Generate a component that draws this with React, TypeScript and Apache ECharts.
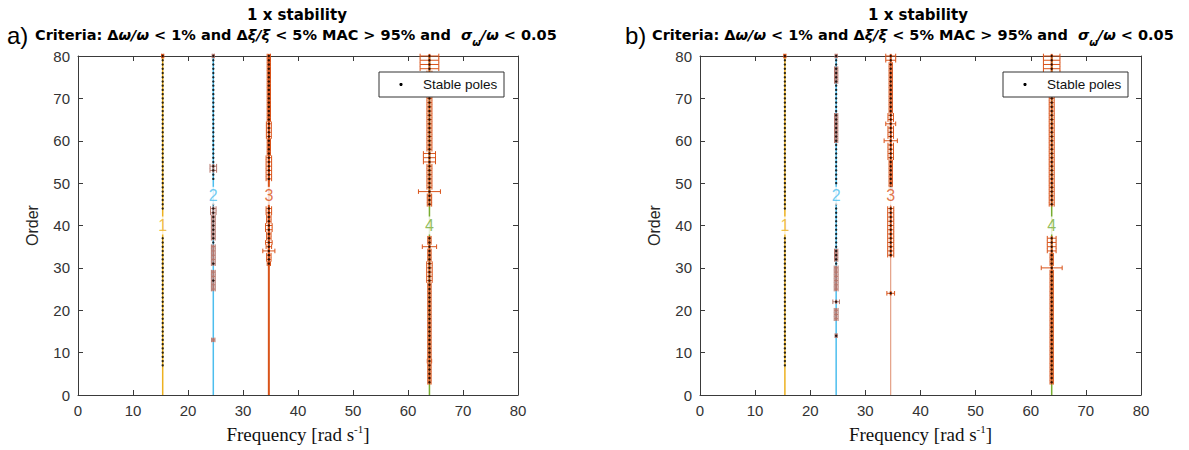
import React, { useEffect, useRef } from "react";
import * as echarts from "echarts";

// ---------- data ----------
const xRange = [0, 80];
const yRange = [0, 80];
const tickStep = 10;
const modeNames = ["1", "2", "3", "4"];
const legendLabel = "Stable poles";

// panel a
const aModeFreq = [15.4, 24.6, 34.7, 63.9];
const aLabelOrder = [40, 47, 47, 40];
const aPoles1 = [7,8,9,10,11,12,13,14,15,16,17,18,19,20,21,22,23,24,25,26,27,28,29,30,31,32,33,34,35,36,37,44,45,46,47,48,49,50,51,52,53,54,55,56,57,58,59,60,61,62,63,64,65,66,67,68,69,70,71,72,73,74,75,76,77,78,79,80];
const aPoles2 = [27,31,36,37,38,39,40,41,42,43,44,45,51,52,53,54,55,56,57,58,59,60,61,62,63,64,65,66,67,68,69,70,71,72,73,74,75,76,77,78,79,80];
const aPoles3 = [31,32,33,34,35,36,37,38,39,40,41,42,43,44,51,52,53,54,55,56,57,58,59,60,61,62,63,64,65,66,67,68,69,70,71,72,73,74,75,76,77,78,79,80];
const aPoles4 = [3,4,5,6,7,8,9,10,11,12,13,14,15,16,17,18,19,20,21,22,23,24,25,26,27,28,29,30,31,32,33,34,35,36,37,45,46,47,48,49,50,51,52,53,54,55,56,57,58,59,60,61,62,63,64,65,66,67,68,69,70,71,72,73,74,75,76,77,78,79,80];
// [order, half width of the frequency error bar]
const aErr1 = [[80,0.2]];
const aErr2 = [[13,0.3],[25,0.35],[26,0.35],[27,0.35],[28,0.35],[29,0.35],[31,0.35],[32,0.35],[33,0.35],[34,0.35],[35,0.35],[37,0.35],[38,0.35],[39,0.35],[40,0.35],[41,0.35],[42,0.35],[43,0.5],[44,0.5],[53,0.6],[54,0.6],[80,0.2]];
const aErr3 = [[31,0.3],[32,0.4],[33,0.4],[34,1.1],[35,0.5],[36,0.6],[37,0.4],[38,0.4],[39,0.6],[40,0.6],[41,0.4],[42,0.4],[43,0.5],[44,0.5],[51,0.5],[52,0.5],[53,0.5],[54,0.5],[55,0.5],[56,0.5],[57,0.3],[58,0.3],[59,0.3],[60,0.3],[61,0.45],[62,0.45],[63,0.45],[64,0.45],[65,0.3],[66,0.3],[67,0.3],[68,0.3],[69,0.3],[70,0.3],[71,0.3],[72,0.3],[73,0.3],[74,0.3],[75,0.3],[76,0.3],[77,0.3],[78,0.3],[79,0.3],[80,0.3]];
const aErr4 = [[3,0.3],[4,0.3],[5,0.3],[6,0.3],[7,0.3],[8,0.4],[9,0.3],[10,0.3],[11,0.3],[12,0.3],[13,0.3],[14,0.3],[15,0.3],[16,0.3],[17,0.3],[18,0.3],[19,0.3],[20,0.3],[21,0.3],[22,0.3],[23,0.3],[24,0.3],[25,0.3],[26,0.3],[27,0.5],[28,0.5],[29,0.5],[30,0.5],[31,0.5],[32,0.3],[33,0.3],[34,0.3],[35,1.3],[36,0.3],[37,0.3],[45,0.4],[46,0.4],[47,0.4],[48,2.0],[49,0.45],[50,0.45],[51,0.45],[52,0.45],[53,0.45],[54,0.45],[55,1.1],[56,1.1],[57,1.1],[58,0.45],[59,0.45],[60,0.45],[61,0.45],[62,0.45],[63,0.45],[64,0.45],[65,0.45],[66,0.45],[67,0.45],[68,0.45],[69,0.45],[70,0.45],[71,0.45],[72,0.45],[73,0.45],[74,0.45],[75,0.45],[76,0.45],[77,1.7],[78,1.7],[79,1.7],[80,1.7]];

// panel b
const bModeFreq = [15.4, 24.7, 34.6, 63.8];
const bLabelOrder = [40, 47, 47, 40];
const bPoles1 = [7,8,9,10,11,12,13,14,15,16,17,18,19,20,21,22,23,24,25,26,27,28,29,30,31,32,33,34,35,36,37,44,45,46,47,48,49,50,51,52,53,54,55,56,57,58,59,60,61,62,63,64,65,66,67,68,69,70,71,72,73,74,75,76,77,78,79,80];
const bPoles2 = [14,22,31,32,33,34,35,36,37,38,39,40,41,42,43,44,45,50,51,52,53,54,55,56,57,58,59,60,61,62,63,64,65,66,67,68,69,70,71,72,73,74,75,76,77,78,79,80];
const bPoles3 = [24,33,34,35,36,37,38,39,40,41,42,43,44,49,50,51,52,53,54,55,56,57,58,59,60,61,62,63,64,65,66,67,68,69,70,71,72,73,74,75,76,77,78,79,80];
const bPoles4 = [3,4,5,6,7,8,9,10,11,12,13,14,15,16,17,18,19,20,21,22,23,24,25,26,27,28,29,30,31,32,33,34,35,36,37,45,46,47,48,49,50,51,52,53,54,55,56,57,58,59,60,61,62,63,64,65,66,67,68,69,70,71,72,73,74,75,76,77,78,79,80];
const bErr1 = [[80,0.2]];
const bErr2 = [[14,0.2],[18,0.35],[19,0.35],[20,0.35],[22,0.6],[25,0.35],[26,0.35],[27,0.35],[28,0.35],[29,0.35],[30,0.35],[32,0.3],[33,0.3],[34,0.3],[60,0.3],[61,0.3],[62,0.3],[63,0.3],[64,0.3],[65,0.3],[66,0.3],[74,0.3],[75,0.3],[76,0.3],[77,0.3],[80,0.2]];
const bErr3 = [[24,0.7],[33,0.55],[34,0.55],[35,0.55],[36,0.55],[37,0.55],[38,0.55],[39,0.55],[40,0.55],[41,0.55],[42,0.55],[43,0.55],[44,0.55],[49,0.3],[50,0.3],[51,0.3],[52,0.3],[53,0.3],[54,0.3],[55,0.3],[56,0.5],[57,0.5],[58,0.5],[59,0.5],[60,1.2],[61,0.5],[62,0.5],[63,0.5],[64,0.9],[65,0.5],[66,0.5],[67,0.3],[68,0.3],[69,0.3],[70,0.3],[71,0.3],[72,0.3],[73,0.3],[74,0.3],[75,0.3],[76,0.3],[77,0.3],[78,0.3],[79,0.9],[80,0.9]];
const bErr4 = [[3,0.3],[4,0.3],[5,0.3],[6,0.3],[7,0.3],[8,0.3],[9,0.3],[10,0.3],[11,0.3],[12,0.3],[13,0.3],[14,0.3],[15,0.3],[16,0.3],[17,0.3],[18,0.3],[19,0.3],[20,0.3],[21,0.3],[22,0.3],[23,0.3],[24,0.3],[25,0.3],[26,0.3],[27,0.3],[28,0.3],[29,0.3],[30,1.9],[31,0.3],[32,0.3],[33,0.3],[34,0.8],[35,0.8],[36,0.8],[37,0.8],[45,0.45],[46,0.45],[47,0.45],[48,0.45],[49,0.45],[50,0.45],[51,0.45],[52,0.45],[53,0.45],[54,0.45],[55,0.45],[56,0.45],[57,0.45],[58,0.45],[59,0.45],[60,0.45],[61,0.45],[62,0.45],[63,0.45],[64,0.45],[65,0.45],[66,0.45],[67,0.45],[68,0.45],[69,0.45],[70,0.45],[71,0.45],[72,0.45],[73,0.45],[74,0.45],[75,0.45],[76,1.5],[77,1.5],[78,1.5],[79,1.5],[80,1.5]];

// ---------- styles ----------
const FONT = "'Liberation Sans', Arial, Helvetica, sans-serif";
const TFONT = "'DejaVu Sans', 'Liberation Sans', sans-serif";
const SERIF = "'Liberation Serif', 'Times New Roman', serif";
const AX = "#3a3a3a";
const LBL = "#333333";
const modeColors = ["#EDB120", "#4DBEEE", "#D95319", "#77AC30"];
const errColors = ["#D95319", "#B5766C", "#D95319", "#D95319"];

function panelSeries(
  freqs: number[],
  poles: number[][],
  errs: number[][][],
  labelOrders: number[],
  axisIdx: number,
  mode3Line: { color: string; width: number }
) {
  const series: any[] = [];
  freqs.forEach((f, i) => {
    const ls = i === 2 ? mode3Line : { color: modeColors[i], width: 1.5 };
    series.push({
      type: "line",
      xAxisIndex: axisIdx,
      yAxisIndex: axisIdx,
      data: [[f, yRange[0]], [f, yRange[1]]],
      showSymbol: false,
      symbol: "none",
      silent: true,
      lineStyle: { color: ls.color, width: ls.width },
      z: 1,
    });
  });
  freqs.forEach((f, i) => {
    const col = errColors[i];
    series.push({
      type: "custom",
      xAxisIndex: axisIdx,
      yAxisIndex: axisIdx,
      silent: true,
      z: 2,
      data: errs[i].map(([o, h]) => [f, o, h]),
      renderItem: (params: any, api: any) => {
        const fr = api.value(0);
        const o = api.value(1);
        const h = api.value(2);
        const p1 = api.coord([fr - h, o]);
        const p2 = api.coord([fr + h, o]);
        const pt = api.coord([fr, o + 0.5]);
        const pb = api.coord([fr, o - 0.5]);
        const c = 2.3;
        const st = { stroke: col, lineWidth: 1, fill: null };
        return {
          type: "group",
          children: [
            { type: "line", shape: { x1: pt[0], y1: pt[1], x2: pb[0], y2: pb[1] }, style: { stroke: col, lineWidth: 2 } },
            { type: "line", shape: { x1: p1[0], y1: p1[1], x2: p2[0], y2: p2[1] }, style: st },
            { type: "line", shape: { x1: p1[0], y1: p1[1] - c, x2: p1[0], y2: p1[1] + c }, style: st },
            { type: "line", shape: { x1: p2[0], y1: p2[1] - c, x2: p2[0], y2: p2[1] + c }, style: st },
          ],
        };
      },
    });
  });
  const dots: number[][] = [];
  freqs.forEach((f, i) => poles[i].forEach((o) => dots.push([f, o])));
  series.push({
    type: "scatter",
    name: legendLabel,
    xAxisIndex: axisIdx,
    yAxisIndex: axisIdx,
    data: dots,
    symbol: "circle",
    symbolSize: 2.4,
    itemStyle: { color: "#000000" },
    silent: true,
    z: 3,
  });
  series.push({
    type: "scatter",
    xAxisIndex: axisIdx,
    yAxisIndex: axisIdx,
    symbolSize: 0,
    silent: true,
    z: 4,
    data: freqs.map((f, i) => ({
      value: [f, labelOrders[i], modeNames[i]],
      label: { color: modeColors[i] },
    })),
    label: {
      show: true,
      position: "inside",
      formatter: (p: any) => p.value[2],
      fontSize: 16,
      fontFamily: FONT,
      backgroundColor: "#ffffff",
      padding: [1, 1],
    },
  });
  return series;
}

function axesFor(gridIndex: number) {
  const base = {
    type: "value",
    gridIndex,
    min: xRange[0],
    max: xRange[1],
    interval: tickStep,
    splitLine: { show: false },
    axisLine: { show: true, onZero: false, lineStyle: { color: AX, width: 1 } },
    axisTick: { show: true, inside: true, length: 5, lineStyle: { color: AX } },
  };
  const xs = [
    {
      ...base,
      position: "bottom",
      axisLabel: { color: LBL, fontSize: 15, fontFamily: FONT, margin: 8 },
      name: "Frequency [rad s{sup|-1}]",
      nameLocation: "middle",
      nameGap: 28,
      nameTextStyle: {
        fontFamily: SERIF,
        fontSize: 19,
        color: "#111",
        lineHeight: 22,
        rich: { sup: { fontFamily: SERIF, fontSize: 11, verticalAlign: "top", lineHeight: 12 } },
      },
    },
    { ...base, position: "top", axisLabel: { show: false } },
  ];
  const ybase = { ...base, min: yRange[0], max: yRange[1] };
  const ys = [
    {
      ...ybase,
      position: "left",
      axisLabel: { color: LBL, fontSize: 15, fontFamily: FONT, margin: 8 },
      name: "Order",
      nameLocation: "middle",
      nameGap: 38,
      nameTextStyle: { fontFamily: FONT, fontSize: 16, color: "#262626" },
    },
    { ...ybase, position: "right", axisLabel: { show: false } },
  ];
  return { xs, ys };
}

const richTitle = {
  n: { font: `bold 14.5px ${TFONT}`, fill: "#000", verticalAlign: "top", lineHeight: 17 },
  g: { font: `italic bold 14.5px ${TFONT}`, fill: "#000", verticalAlign: "top", lineHeight: 17 },
  s: { font: `italic bold 10px ${TFONT}`, fill: "#000", verticalAlign: "top", lineHeight: 10, padding: [10, 0, 0, 0] },
};
const criteriaText =
  "{n|Criteria: }{n|Δ}{g|ω/ω}{n| < 1% and }{n|Δ}{g|ξ/ξ}{n| < 5% MAC > 95% and  }{g|σ}{s|ω}{g|/ω}{n| < 0.05}";

function titleGraphics(cx: number, letterX: number, letter: string, critX: number) {
  return [
    {
      type: "text",
      x: cx,
      y: 15,
      style: { text: "1 x stability", font: `bold 15px ${TFONT}`, fill: "#000", align: "center", verticalAlign: "middle" },
    },
    {
      type: "text",
      x: letterX,
      y: 35,
      style: { text: letter, font: `24px ${FONT}`, fill: "#000", align: "left", verticalAlign: "middle" },
    },
    {
      type: "text",
      x: critX,
      y: 27,
      style: { text: criteriaText, rich: richTitle, align: "left", verticalAlign: "top" },
    },
  ];
}

function legendGraphics(x: number, y: number) {
  return [
    { type: "rect", z: 100, shape: { x, y, width: 125, height: 25 }, style: { fill: "#ffffff", stroke: "#333333", lineWidth: 1 } },
    { type: "circle", z: 101, shape: { cx: x + 22, cy: y + 12.5, r: 1.6 }, style: { fill: "#000000" } },
    {
      type: "text",
      z: 101,
      x: x + 44,
      y: y + 12.5,
      style: { text: legendLabel, font: `13.5px ${FONT}`, fill: "#111", align: "left", verticalAlign: "middle" },
    },
  ];
}

export default function App() {
  const ref = useRef<HTMLDivElement>(null);
  useEffect(() => {
    if (!ref.current) return;
    const chart = echarts.init(ref.current, null, { renderer: "svg" });
    const a = axesFor(0);
    const b = axesFor(1);
    chart.setOption({
      animation: false,
      backgroundColor: "#ffffff",
      grid: [
        { left: 78, top: 56, width: 440, height: 340 },
        { left: 700, top: 56, width: 441, height: 340 },
      ],
      xAxis: [...a.xs, ...b.xs],
      yAxis: [...a.ys, ...b.ys],
      graphic: [
        ...titleGraphics(297, 7, "a)", 35),
        ...titleGraphics(918, 625, "b)", 652),
        ...legendGraphics(379, 72),
        ...legendGraphics(1003, 72),
      ],
      series: [
        ...panelSeries(aModeFreq, [aPoles1, aPoles2, aPoles3, aPoles4], [aErr1, aErr2, aErr3, aErr4], aLabelOrder, 0, { color: "#D95319", width: 2 }),
        ...panelSeries(bModeFreq, [bPoles1, bPoles2, bPoles3, bPoles4], [bErr1, bErr2, bErr3, bErr4], bLabelOrder, 2, { color: "#DE8C6C", width: 1 }),
      ],
    });
    return () => chart.dispose();
  }, []);
  return (
    <div
      ref={ref}
      style={{ position: "absolute", left: 0, top: 0, width: 1189, height: 450, background: "#fff" }}
    />
  );
}
